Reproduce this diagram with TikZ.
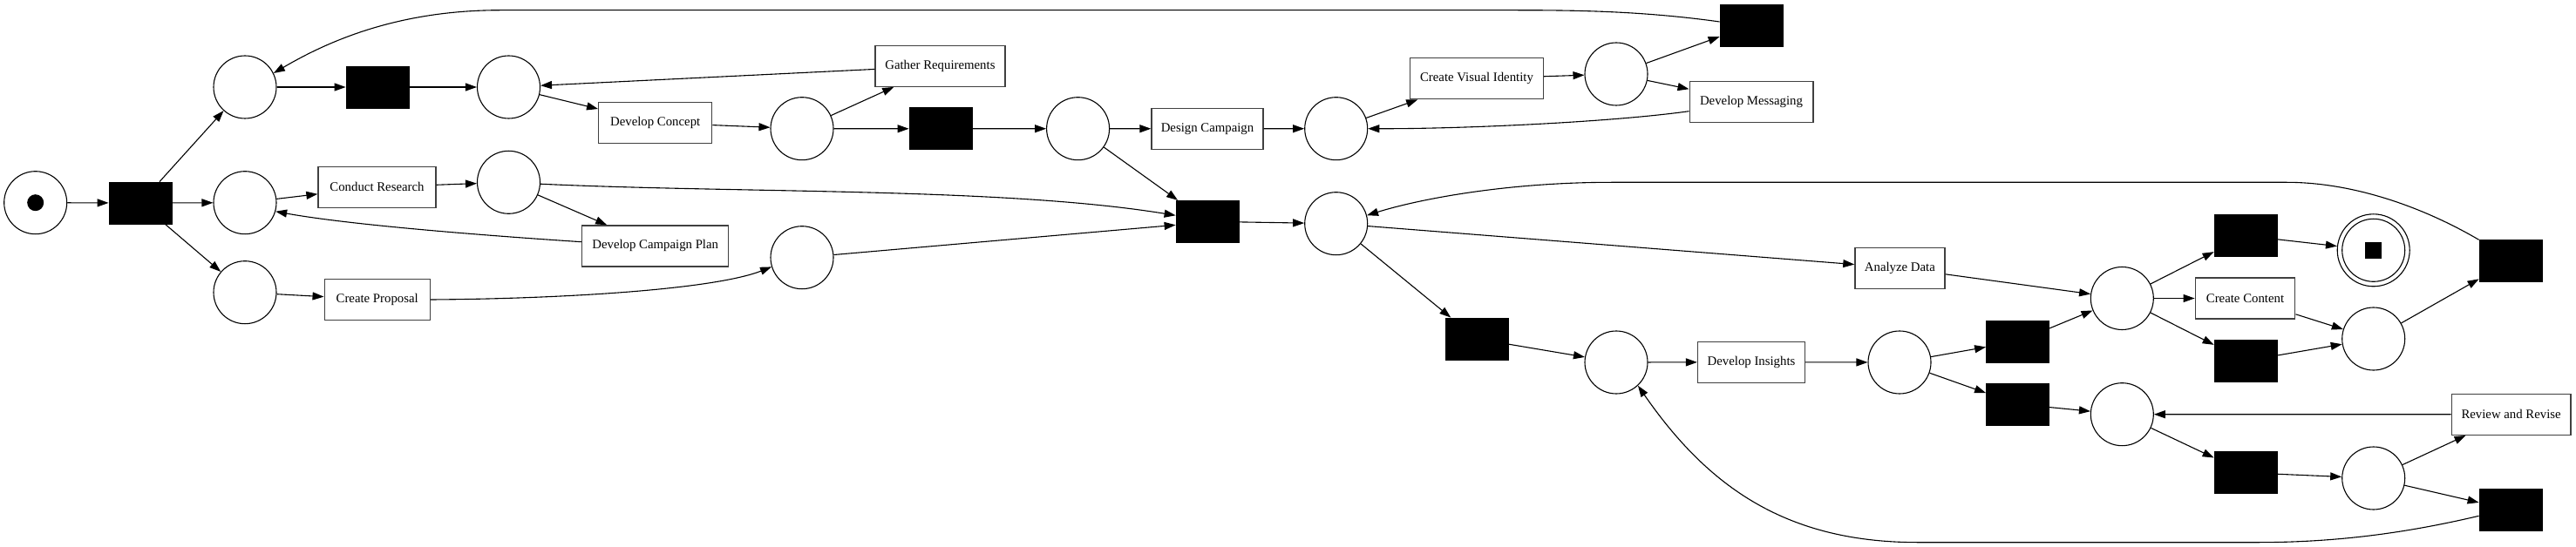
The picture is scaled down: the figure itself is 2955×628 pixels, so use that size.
\documentclass[tikz,border=0pt]{standalone}
\usepackage{fontspec}
\setmainfont{Liberation Serif}
\usetikzlibrary{arrows.meta}
\begin{document}
\begin{tikzpicture}[x=1pt,y=-1pt,
  place/.style={circle,draw=black,line width=1.1pt,minimum size=72pt,inner sep=0pt},
  trans/.style={rectangle,fill=black,draw=black,line width=0.8pt,minimum width=72pt,minimum height=48pt,inner sep=0pt},
  task/.style={rectangle,draw=black!75,line width=1.3pt,minimum height=47pt,inner sep=0pt,font=\fontsize{14.8}{16}\selectfont},
  arc/.style={line width=1.1pt,draw=black,-{Triangle[length=13pt,width=9pt]}}
]
\useasboundingbox (0,0) rectangle (2955,628);
% nodes
\node[place] (start) at (40.7,232.7) {};
\node[trans] (t0) at (161,233) {};
\node[place] (p1) at (281,100) {};
\node[place] (p2) at (281,232.7) {};
\node[place] (p3) at (281,335.7) {};
\node[trans] (t1) at (433,100) {};
\node[place] (p4) at (583.5,100) {};
\node[task,minimum width=135pt] (cr) at (432.5,214.7) {Conduct Research};
\node[place] (p5) at (583.5,209.3) {};
\node[task,minimum width=121pt] (cp) at (432.7,344) {Create Proposal};
\node[task,minimum width=168pt] (dcp) at (751.7,282.4) {Develop Campaign Plan};
\node[task,minimum width=130pt] (dc) at (751.7,141) {Develop Concept};
\node[task,minimum width=149pt] (gr) at (1078.4,75.8) {Gather Requirements};
\node[place] (p6) at (920,147.7) {};
\node[place] (p8) at (920,295.7) {};
\node[trans] (t2) at (1079,147.8) {};
\node[place] (p7) at (1236.6,147.7) {};
\node[task,minimum width=128pt] (desc) at (1385,147.8) {Design Campaign};
\node[trans] (t3) at (1385,254.3) {};
\node[place] (p9) at (1532.7,147.7) {};
\node[place] (p11) at (1532.7,256.7) {};
\node[task,minimum width=153pt] (cvi) at (1694,90.3) {Create Visual Identity};
\node[place] (p10) at (1854,85) {};
\node[trans] (t4) at (2009,29) {};
\node[task,minimum width=141.7pt] (dm) at (2009,117) {Develop Messaging};
\node[trans] (t5) at (1694,389) {};
\node[place] (p14) at (1854,416) {};
\node[task,minimum width=123pt] (di) at (2009,415.8) {Develop Insights};
\node[place] (p15) at (2179,416) {};
\node[task,minimum width=103pt] (ad) at (2179.4,307.7) {Analyze Data};
\node[trans] (t8) at (2314.5,392) {};
\node[trans] (t9) at (2314.5,464) {};
\node[place] (p12) at (2434.3,342.5) {};
\node[place] (p16) at (2434.3,475.7) {};
\node[trans] (t6) at (2576,270.7) {};
\node[task,minimum width=114.6pt] (cc) at (2575.5,342.5) {Create Content};
\node[trans] (t10) at (2576,414.3) {};
\node[trans] (t11) at (2576,542.7) {};
\node[circle,draw=black,line width=1.1pt,minimum size=83pt,inner sep=0pt] (end) at (2722.7,287.3) {};
\node[place] (p13) at (2722.7,389) {};
\node[place] (p17) at (2722.7,549) {};
\node[trans] (t7) at (2880,299.7) {};
\node[task,minimum width=136.8pt] (rr) at (2880.6,475.8) {Review and Revise};
\node[trans] (t12) at (2880,585.3) {};
% tokens and final ring
\fill (start.center) circle[radius=9.5pt];
\draw[line width=1.1pt] (end.center) circle[radius=36pt];
\fill ([xshift=-9.5pt,yshift=-9.5pt]end.center) rectangle ([xshift=9.5pt,yshift=9.5pt]end.center);
% straight arcs
\draw[arc] (start) -- (t0);
\draw[arc] (t0) -- (p1);
\draw[arc] (t0) -- (p2);
\draw[arc] (t0) -- (p3);
\draw[arc] (p1) -- (t1);
\draw[arc] (t1) -- (p4);
\draw[arc] (p2) -- (cr);
\draw[arc] (cr) -- (p5);
\draw[arc] (p3) -- (cp);
\draw[arc] (p5) -- (dcp);
\draw[arc] (p4) -- (dc);
\draw[arc] (gr) -- (p4);
\draw[arc] (dc) -- (p6);
\draw[arc] (p6) -- (gr);
\draw[arc] (p6) -- (t2);
\draw[arc] (t2) -- (p7);
\draw[arc] (p7) -- (desc);
\draw[arc] (p7) -- (t3);
\draw[arc] (p8) -- ([yshift=-4pt]t3.west);
\draw[arc] (desc) -- (p9);
\draw[arc] (p9) -- (cvi);
\draw[arc] (cvi) -- (p10);
\draw[arc] (p10) -- (t4);
\draw[arc] (p10) -- (dm);
\draw[arc] (t3) -- (p11);
\draw[arc] (p11) -- (ad);
\draw[arc] (p11) -- (t5);
\draw[arc] (t5) -- (p14);
\draw[arc] (p14) -- (di);
\draw[arc] (di) -- (p15);
\draw[arc] (p15) -- (t8);
\draw[arc] (p15) -- (t9);
\draw[arc] (t8) -- (p12);
\draw[arc] (ad) -- (p12);
\draw[arc] (p12) -- (t6);
\draw[arc] (p12) -- (cc);
\draw[arc] (p12) -- (t10);
\draw[arc] (t6) -- (end);
\draw[arc] (cc) -- (p13);
\draw[arc] (t10) -- (p13);
\draw[arc] (p13) -- (t7);
\draw[arc] (t9) -- (p16);
\draw[arc] (rr) -- (p16);
\draw[arc] (p16) -- (t11);
\draw[arc] (t11) -- (p17);
\draw[arc] (p17) -- (rr);
\draw[arc] (p17) -- (t12);
% curved arcs
\draw[arc] (cp.east) .. controls (650,343) and (820,332) .. (p8.197);
\draw[arc] ([yshift=4.7pt]dcp.west) .. controls (550,270) and (400,258) .. (p2.-16);
\draw[arc] (p5.-3) .. controls (850,222) and (1150,215) .. ([yshift=7pt]t3.west);
\draw[arc] ([yshift=-10.7pt]dm.west) .. controls (1850,140) and (1680,148) .. (p9.east);
\draw[arc] ([yshift=4pt]t4.west) .. controls (1880,12) and (1800,11.7) .. (1731,11.7) -- (574,11.7) .. controls (460,11.7) and (380,45) .. (p1.26);
\draw[arc] (t7.north west) .. controls (2780,238) and (2700,209.3) .. (2623,209.3) -- (1849,209.3) .. controls (1730,209.3) and (1630,228) .. (p11.15);
\draw[arc] ([yshift=-7pt]t12.west) .. controls (2760,612) and (2680,622.7) .. (2590,622.7) -- (2200,622.7) .. controls (2050,622.7) and (1960,560) .. (p14.-47);
\end{tikzpicture}
\end{document}
